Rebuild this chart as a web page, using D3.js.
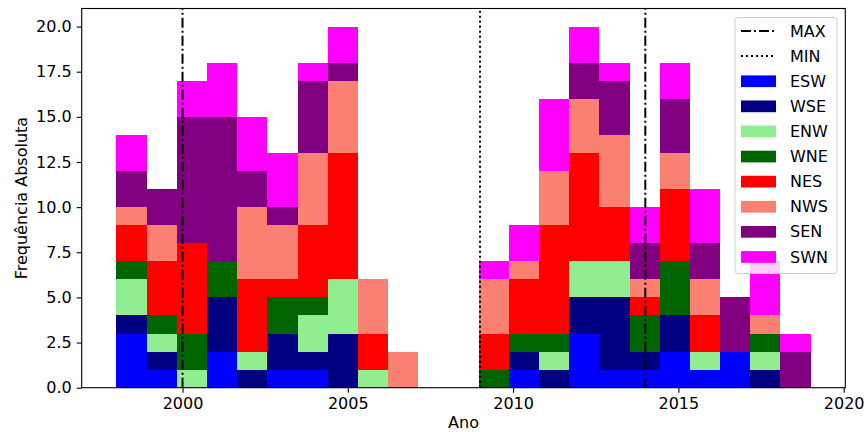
<!DOCTYPE html>
<html>
<head>
<meta charset="utf-8">
<script src="https://cdn.jsdelivr.net/npm/d3@7"></script>
<style>
  body { margin: 0; background: white; }
  text { font-family: "DejaVu Sans", sans-serif; }
</style>
</head>
<body>
<div id="myVis"></div>
<script>
// years that have events (histogram with 23 bins from 1998 to 2019)
const years = [1998,1999,2000,2001,2002,2003,2004,2005,2006,2007,
               2009,2010,2011,2012,2013,2014,2015,2016,2017,2018,2019]

const keys = ["ESW","WSE","ENW","WNE","NES","NWS","SEN","SWN"]
const colors = ["blue","navy","lightgreen","darkgreen","red","salmon","purple","magenta"]

const ESW = [3,1,0,2,0,1,1,0,0,0, 0,1,0,3,1,1,2,1,2,0,0]
const WSE = [1,1,0,3,1,2,1,3,0,0, 0,1,1,2,4,1,2,0,0,1,0]
const ENW = [2,1,1,0,1,0,2,3,1,0, 0,0,1,2,2,0,0,1,0,1,0]
const WNE = [1,1,2,2,0,2,1,0,0,0, 1,1,1,0,0,2,3,0,0,1,0]
const NES = [2,3,5,0,4,1,4,7,2,0, 2,3,6,6,3,1,4,2,0,0,0]
const NWS = [1,2,0,0,4,3,4,4,3,2, 3,1,3,3,4,1,2,2,0,1,0]
const SEN = [2,2,7,8,2,1,4,1,0,0, 0,0,0,2,3,2,3,2,3,0,2]
const SWN = [2,0,2,3,3,3,1,2,0,0, 1,2,4,2,1,2,2,3,0,3,1]

const maxYears = [2000, 2014]
const minYears = [2009]

const xTicks = [2000, 2005, 2010, 2015, 2020]
const yTicks = [0, 2.5, 5, 7.5, 10, 12.5, 15, 17.5, 20]

const series = {ESW, WSE, ENW, WNE, NES, NWS, SEN, SWN}
const table = years.map((yr, i) => {
    let row = {year: yr}
    keys.forEach(k => row[k] = series[k][i])
    return row
})

const nBins = 23, lo = 1998, hi = 2019
const binW = (hi - lo) / nBins
const binStart = (yr) => lo + Math.min(nBins - 1, Math.floor((yr - lo) / binW)) * binW

const W = 867, H = 432
const plot = {left: 81.7, right: 845.3, top: 8.5, bottom: 387.7}

const svg = d3.select("#myVis")
    .append("svg")
        .attr("width", W)
        .attr("height", H)
        .style("background-color", "white")

const x = d3.scaleLinear().domain([1996.95, 2020.05]).range([plot.left, plot.right])
const y = d3.scaleLinear().domain([0, 21]).range([plot.bottom, plot.top])

const stacked = d3.stack().keys(keys)(table)

svg.append("g")
    .selectAll("g")
    .data(stacked)
    .enter()
    .append("g")
        .attr("fill", (d, i) => colors[i])
    .selectAll("rect")
    .data(d => d.filter(s => s[1] > s[0]))
    .enter()
    .append("rect")
        .attr("x", d => x(binStart(d.data.year)))
        .attr("width", d => x(binStart(d.data.year) + binW) - x(binStart(d.data.year)))
        .attr("y", d => y(d[1]))
        .attr("height", d => y(d[0]) - y(d[1]))
        .attr("shape-rendering", "crispEdges")

// vertical reference lines
const vlines = svg.append("g")
vlines.selectAll(".max")
    .data(maxYears)
    .enter()
    .append("line")
        .attr("x1", d => x(d)).attr("x2", d => x(d))
        .attr("y1", plot.bottom).attr("y2", plot.top)
        .attr("stroke", "black")
        .attr("stroke-width", 2)
        .attr("stroke-dasharray", "10,3,2,3")
vlines.selectAll(".min")
    .data(minYears)
    .enter()
    .append("line")
        .attr("x1", d => x(d)).attr("x2", d => x(d))
        .attr("y1", plot.bottom).attr("y2", plot.top)
        .attr("stroke", "black")
        .attr("stroke-width", 2)
        .attr("stroke-dasharray", "2,3")

// axes
const xAxis = svg.append("g")
    .attr("transform", "translate(0," + plot.bottom + ")")
    .call(d3.axisBottom(x).tickValues(xTicks).tickFormat(d3.format("d")).tickSize(5).tickPadding(4.5))
const yAxis = svg.append("g")
    .attr("transform", "translate(" + plot.left + ",0)")
    .call(d3.axisLeft(y).tickValues(yTicks).tickFormat(d3.format(".1f")).tickSize(5).tickPadding(5))

;[xAxis, yAxis].forEach(a => {
    a.select(".domain").remove()
    a.selectAll("text").attr("font-size", 16).attr("fill", "black").attr("font-family", "DejaVu Sans")
    a.selectAll("line").attr("stroke", "black").attr("stroke-width", 1.1)
})

svg.append("rect")
    .attr("x", plot.left).attr("y", plot.top)
    .attr("width", plot.right - plot.left)
    .attr("height", plot.bottom - plot.top)
    .attr("fill", "none")
    .attr("stroke", "black")
    .attr("stroke-width", 1.1)

svg.append("text")
    .attr("x", (plot.left + plot.right) / 2)
    .attr("y", 428)
    .attr("text-anchor", "middle")
    .attr("font-size", 16)
    .text("Ano")

svg.append("text")
    .attr("transform", "translate(27," + ((plot.top + plot.bottom) / 2) + ") rotate(-90)")
    .attr("text-anchor", "middle")
    .attr("font-size", 16)
    .text("Frequência Absoluta")

// legend
const legendItems = [{label: "MAX", type: "line", dash: "10,3,2,3"},
                     {label: "MIN", type: "line", dash: "2,3"}]
    .concat(keys.map((k, i) => ({label: k, type: "patch", color: colors[i]})))

const legend = svg.append("g")
legend.append("rect")
    .attr("x", 735).attr("y", 17.5)
    .attr("width", 102).attr("height", 256)
    .attr("rx", 3)
    .attr("fill", "white")
    .attr("fill-opacity", 0.8)
    .attr("stroke", "#cccccc")
    .attr("stroke-width", 1)

const item = legend.selectAll(".item")
    .data(legendItems)
    .enter()
    .append("g")
        .attr("transform", (d, i) => "translate(0," + (31 + i * 25.1) + ")")

item.filter(d => d.type == "line")
    .append("line")
        .attr("x1", 741).attr("x2", 776)
        .attr("stroke", "black")
        .attr("stroke-width", 2)
        .attr("stroke-dasharray", d => d.dash)
item.filter(d => d.type == "patch")
    .append("rect")
        .attr("x", 741).attr("y", -5.8)
        .attr("width", 35).attr("height", 11.7)
        .attr("fill", d => d.color)
item.append("text")
    .attr("x", 790)
    .attr("dy", "0.35em")
    .attr("font-size", 16)
    .text(d => d.label)
</script>
</body>
</html>
